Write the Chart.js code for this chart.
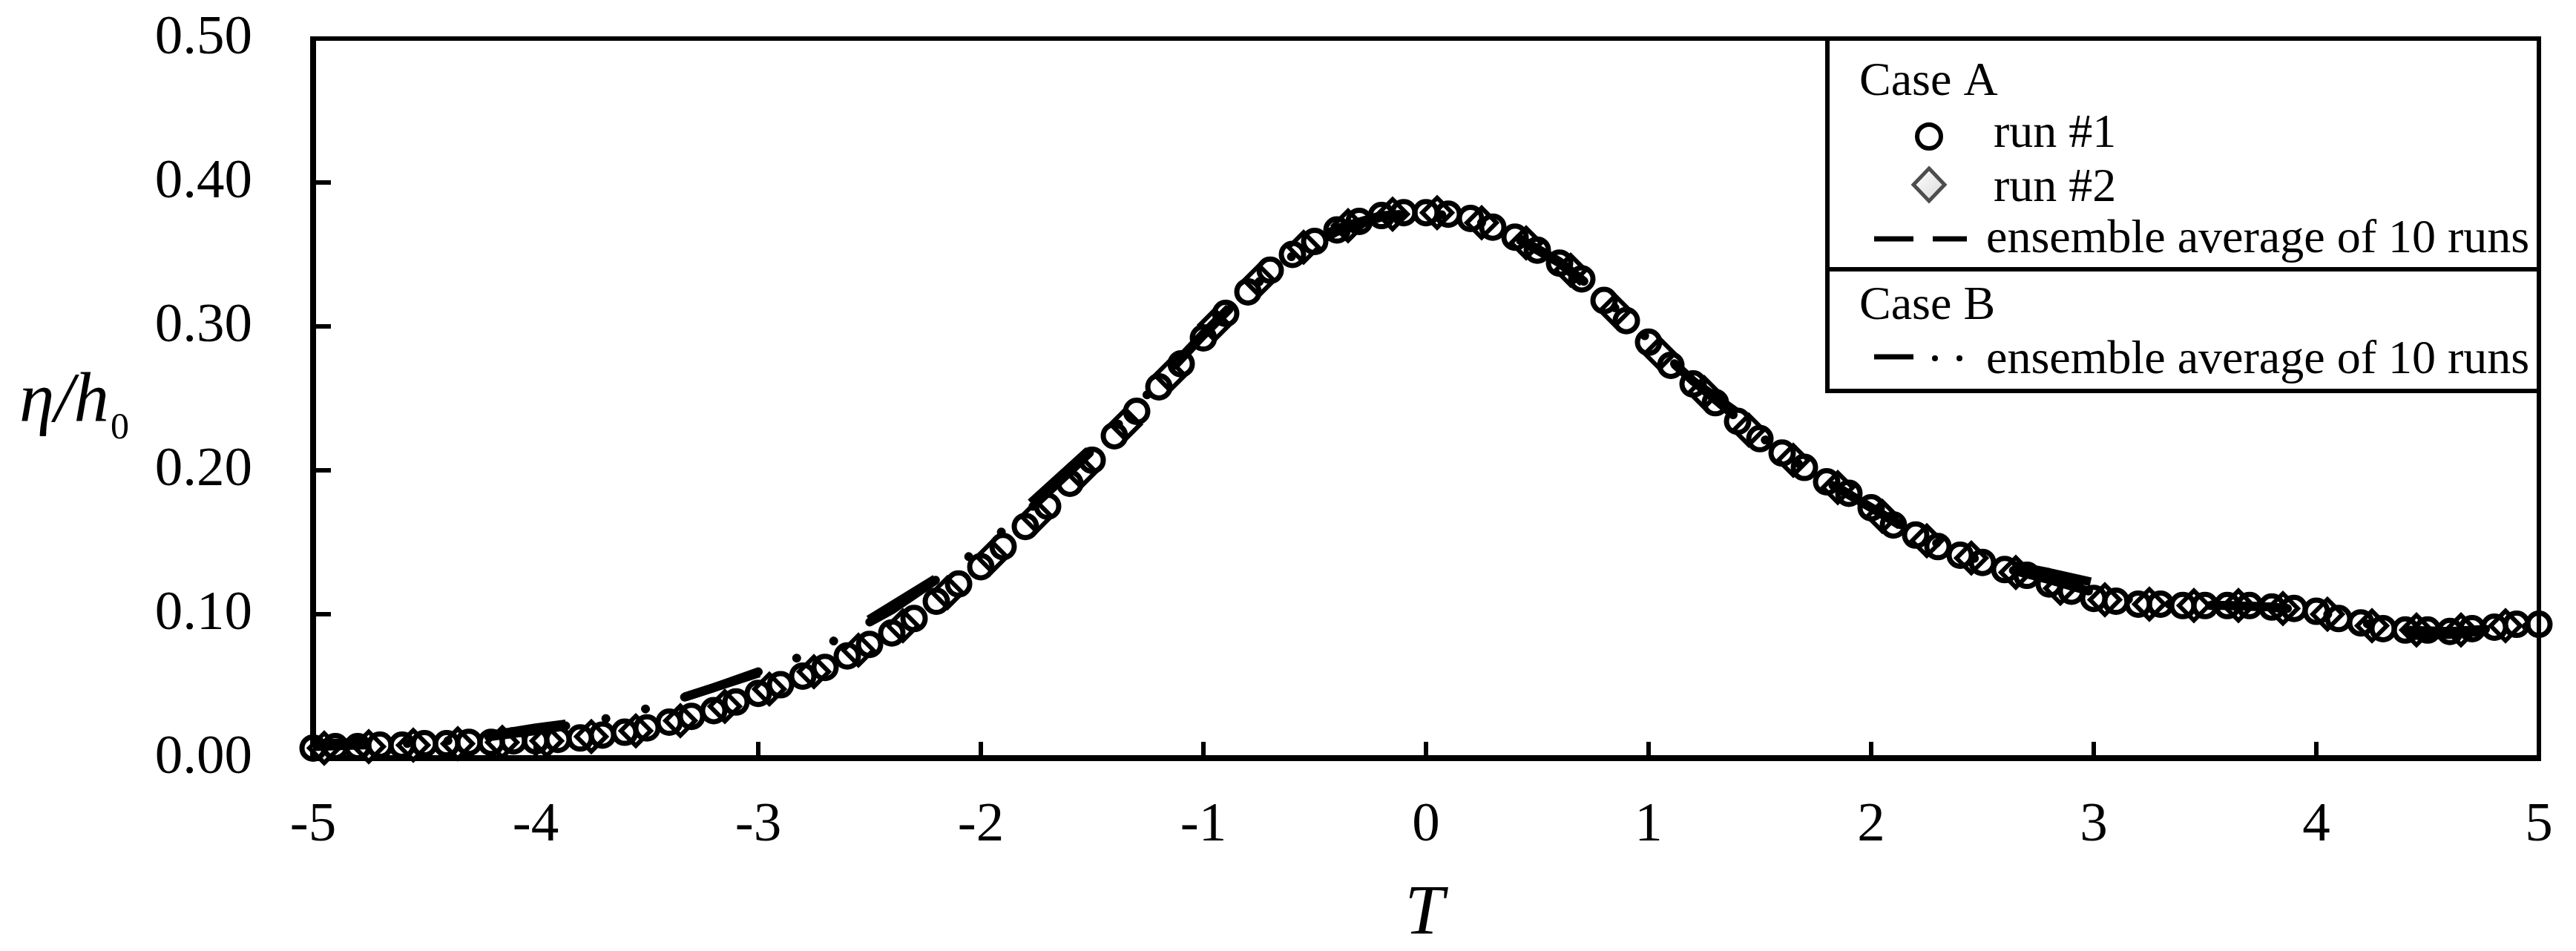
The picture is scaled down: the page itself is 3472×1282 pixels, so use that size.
<!DOCTYPE html>
<html>
<head>
<meta charset="utf-8">
<script src="https://cdn.jsdelivr.net/npm/chart.js@4.4.1/dist/chart.umd.min.js"></script>
<style>
  html, body { margin: 0; padding: 0; background: #fff; overflow: hidden; }
  #wrap { width: 3472px; height: 1282px; }
</style>
</head>
<body>
<div id="wrap"><canvas id="chart" width="3472" height="1282"></canvas></div>
<script>
const SERIF = '"Liberation Serif", "Times New Roman", serif';

// axis ticks
const xTickValues = [-5, -4, -3, -2, -1, 0, 1, 2, 3, 4, 5];
const yTickValues = [0, 0.1, 0.2, 0.3, 0.4, 0.5];

// Case A, run #1 (circles)
const tRun1 = [
  -5.0, -4.9, -4.8, -4.7, -4.6, -4.5, -4.4, -4.3, -4.2, -4.1,
  -4.0, -3.9, -3.8, -3.7, -3.6, -3.5, -3.4, -3.3, -3.2, -3.1,
  -3.0, -2.9, -2.8, -2.7, -2.6, -2.5, -2.4, -2.3, -2.2, -2.1,
  -2.0, -1.9, -1.8, -1.7, -1.6, -1.5, -1.4, -1.3, -1.2, -1.1,
  -1.0, -0.9, -0.8, -0.7, -0.6, -0.5, -0.4, -0.3, -0.2, -0.1,
  0.0, 0.1, 0.2, 0.3, 0.4, 0.5, 0.6, 0.7, 0.8, 0.9,
  1.0, 1.1, 1.2, 1.3, 1.4, 1.5, 1.6, 1.7, 1.8, 1.9,
  2.0, 2.1, 2.2, 2.3, 2.4, 2.5, 2.6, 2.7, 2.8, 2.9,
  3.0, 3.1, 3.2, 3.3, 3.4, 3.5, 3.6, 3.7, 3.8, 3.9,
  4.0, 4.1, 4.2, 4.3, 4.4, 4.5, 4.6, 4.7, 4.8, 4.9,
  5.0
];
const etaRun1 = [
  0.007, 0.008, 0.008, 0.009, 0.009, 0.010, 0.010, 0.011, 0.011, 0.012,
  0.012, 0.013, 0.014, 0.016, 0.018, 0.021, 0.025, 0.029, 0.033, 0.039,
  0.045, 0.051, 0.057, 0.063, 0.071, 0.079, 0.087, 0.097, 0.109, 0.121,
  0.133, 0.147, 0.161, 0.175, 0.191, 0.207, 0.224, 0.241, 0.258, 0.274,
  0.292, 0.309, 0.324, 0.339, 0.350, 0.359, 0.367, 0.373, 0.377, 0.379,
  0.379, 0.378, 0.375, 0.369, 0.362, 0.353, 0.344, 0.333, 0.318, 0.304,
  0.289, 0.273, 0.260, 0.247, 0.234, 0.222, 0.212, 0.202, 0.192, 0.184,
  0.174, 0.162, 0.155, 0.147, 0.141, 0.136, 0.131, 0.127, 0.121, 0.116,
  0.111, 0.109, 0.107, 0.107, 0.106, 0.106, 0.106, 0.106, 0.105, 0.104,
  0.102, 0.097, 0.094, 0.090, 0.089, 0.089, 0.088, 0.090, 0.091, 0.093,
  0.093
];

// Case A, run #2 (diamonds)
const tRun2 = [
  -4.95, -4.75, -4.55, -4.35, -4.15, -3.95, -3.75, -3.55, -3.35, -3.15,
  -2.95, -2.75, -2.55, -2.35, -2.15, -1.95, -1.75, -1.55, -1.35, -1.15,
  -0.95, -0.75, -0.55, -0.35, -0.15, 0.05, 0.25, 0.45, 0.65, 0.85,
  1.05, 1.25, 1.45, 1.65, 1.85, 2.05, 2.25, 2.45, 2.65, 2.85,
  3.05, 3.25, 3.45, 3.65, 3.85, 4.05, 4.25, 4.45, 4.65, 4.85
];
const etaRun2 = [
  0.007, 0.008, 0.009, 0.010, 0.011, 0.012, 0.015, 0.019, 0.026, 0.036,
  0.048, 0.060, 0.075, 0.092, 0.115, 0.140, 0.168, 0.199, 0.232, 0.266,
  0.301, 0.332, 0.355, 0.370, 0.378, 0.379, 0.372, 0.358, 0.339, 0.311,
  0.281, 0.254, 0.228, 0.207, 0.188, 0.168, 0.151, 0.139, 0.129, 0.118,
  0.110, 0.107, 0.106, 0.106, 0.104, 0.100, 0.092, 0.089, 0.089, 0.092
];

// ensemble averages of 10 runs
const tAvg = [
  -5.0, -4.8, -4.6, -4.4, -4.2, -4.0, -3.8, -3.6, -3.4, -3.2,
  -3.0, -2.8, -2.6, -2.4, -2.2, -2.0, -1.8, -1.6, -1.4, -1.2,
  -1.0, -0.8, -0.6, -0.4, -0.2, 0.0, 0.2, 0.4, 0.6, 0.8,
  1.0, 1.2, 1.4, 1.6, 1.8, 2.0, 2.2, 2.4, 2.6, 2.8,
  3.0, 3.2, 3.4, 3.6, 3.8, 4.0, 4.2, 4.4, 4.6, 4.8,
  5.0
];
const etaAvgA = [
  0.010, 0.011, 0.012, 0.014, 0.016, 0.021, 0.025, 0.030, 0.039, 0.049,
  0.059, 0.071, 0.087, 0.106, 0.125, 0.146, 0.174, 0.202, 0.230, 0.262,
  0.295, 0.326, 0.351, 0.368, 0.377, 0.379, 0.375, 0.362, 0.344, 0.318,
  0.290, 0.262, 0.240, 0.214, 0.193, 0.174, 0.155, 0.142, 0.135, 0.129,
  0.122, 0.112, 0.107, 0.106, 0.105, 0.100, 0.088, 0.085, 0.086, 0.089,
  0.092
];
const etaAvgB = [
  0.008, 0.009, 0.010, 0.012, 0.015, 0.019, 0.024, 0.030, 0.039, 0.049,
  0.060, 0.071, 0.086, 0.103, 0.124, 0.146, 0.170, 0.199, 0.229, 0.261,
  0.294, 0.325, 0.349, 0.366, 0.376, 0.379, 0.375, 0.363, 0.345, 0.320,
  0.291, 0.262, 0.236, 0.212, 0.192, 0.174, 0.156, 0.142, 0.132, 0.124,
  0.115, 0.109, 0.106, 0.106, 0.105, 0.102, 0.094, 0.089, 0.088, 0.090,
  0.092
];

function pts(xs, ys) {
  return xs.map((x, i) => ({ x: x, y: ys[i] }));
}

// frame, inward ticks, axis titles and the two-part legend box
const decor = {
  id: 'decor',
  beforeDatasetsDraw(chart) {
    const { ctx, chartArea: a, scales } = chart;
    ctx.save();
    ctx.strokeStyle = '#000';
    ctx.lineCap = 'butt';

    ctx.lineWidth = 6;
    ctx.beginPath();
    ctx.moveTo(a.left, a.top);
    ctx.lineTo(a.right, a.top);
    ctx.lineTo(a.right, a.bottom);
    ctx.stroke();

    ctx.lineWidth = 6;
    yTickValues.slice(1, -1).forEach(v => {
      const y = scales.y.getPixelForValue(v);
      ctx.beginPath();
      ctx.moveTo(a.left, y);
      ctx.lineTo(a.left + 24, y);
      ctx.stroke();
    });
    xTickValues.slice(1, -1).forEach(v => {
      const x = scales.x.getPixelForValue(v);
      ctx.beginPath();
      ctx.moveTo(x, a.bottom);
      ctx.lineTo(x, a.bottom - 22);
      ctx.stroke();
    });

    ctx.lineWidth = 8;
    ctx.beginPath();
    ctx.moveTo(a.left, a.top - 3);
    ctx.lineTo(a.left, a.bottom);
    ctx.lineTo(a.right + 3, a.bottom);
    ctx.stroke();
    ctx.restore();
  },
  afterDatasetsDraw(chart) {
    const { ctx, chartArea: a } = chart;
    ctx.save();
    ctx.fillStyle = '#000';
    ctx.textBaseline = 'alphabetic';

    // y title: eta / h0
    ctx.textAlign = 'left';
    ctx.font = 'italic 95px ' + SERIF;
    ctx.fillText('η/h', 26, 568);
    const w = ctx.measureText('η/h').width;
    ctx.font = '50px ' + SERIF;
    ctx.fillText('0', 26 + w + 2, 591);

    // x title
    ctx.textAlign = 'center';
    ctx.font = 'italic 95px ' + SERIF;
    ctx.fillText('T', (a.left + a.right) / 2 - 2, 1259);

    // legend box
    const L = 2463, R = a.right, T = a.top, M = 363, B = 527;
    ctx.fillStyle = '#fff';
    ctx.fillRect(L, T, R - L, B - T);
    ctx.strokeStyle = '#000';
    ctx.lineWidth = 6;
    ctx.strokeRect(L, T, R - L, B - T);
    ctx.beginPath();
    ctx.moveTo(L, M);
    ctx.lineTo(R, M);
    ctx.stroke();

    ctx.fillStyle = '#000';
    ctx.textAlign = 'left';
    ctx.font = '64px ' + SERIF;
    ctx.fillText('Case A', 2506, 128);
    ctx.fillText('run #1', 2687, 198);
    ctx.fillText('run #2', 2687, 271);
    ctx.fillText('ensemble average of 10 runs', 2677, 340);
    ctx.fillText('Case B', 2506, 430);
    ctx.fillText('ensemble average of 10 runs', 2677, 503);

    // circle sample
    ctx.lineWidth = 6;
    ctx.beginPath();
    ctx.arc(2600, 184, 16, 0, Math.PI * 2);
    ctx.stroke();

    // diamond sample
    const g = ctx.createLinearGradient(2580, 230, 2620, 270);
    g.addColorStop(0, '#ffffff');
    g.addColorStop(1, '#d9d9d9');
    ctx.fillStyle = g;
    ctx.strokeStyle = '#4d4d4d';
    ctx.lineWidth = 5;
    ctx.beginPath();
    ctx.moveTo(2600, 227);
    ctx.lineTo(2621, 249);
    ctx.lineTo(2600, 271);
    ctx.lineTo(2579, 249);
    ctx.closePath();
    ctx.fill();
    ctx.stroke();

    // dashed sample (case A)
    ctx.strokeStyle = '#000';
    ctx.lineWidth = 7;
    ctx.beginPath();
    ctx.moveTo(2526, 322); ctx.lineTo(2579, 322);
    ctx.moveTo(2605, 322); ctx.lineTo(2651, 322);
    ctx.stroke();

    // dash-dot-dot sample (case B)
    ctx.beginPath();
    ctx.moveTo(2526, 481); ctx.lineTo(2579, 481);
    ctx.stroke();
    ctx.fillStyle = '#000';
    [2608, 2641].forEach(x => {
      ctx.beginPath();
      ctx.arc(x, 483, 4, 0, Math.PI * 2);
      ctx.fill();
    });
    ctx.restore();
  }
};

new Chart(document.getElementById('chart'), {
  type: 'scatter',
  data: {
    datasets: [
      {
        label: 'Case B ensemble average of 10 runs',
        data: pts(tAvg, etaAvgB),
        showLine: true,
        pointRadius: 0,
        borderColor: '#000',
        borderWidth: 12,
        borderDash: [105, 55, 0.01, 55, 0.01, 55],
        borderDashOffset: 33,
        borderCapStyle: 'round',
        borderJoinStyle: 'round',
        order: 0
      },
      {
        label: 'Case A ensemble average of 10 runs',
        data: pts(tAvg, etaAvgA),
        showLine: true,
        pointRadius: 0,
        borderColor: '#000',
        borderWidth: 12,
        borderDash: [105, 165],
        borderDashOffset: 33,
        borderCapStyle: 'butt',
        borderJoinStyle: 'round',
        order: 1
      },
      {
        label: 'run #1',
        data: pts(tRun1, etaRun1),
        pointStyle: 'circle',
        pointRadius: 15,
        pointBorderWidth: 7,
        pointBorderColor: '#000',
        pointBackgroundColor: 'rgba(255,255,255,0)',
        clip: false,
        order: 2
      },
      {
        label: 'run #2',
        data: pts(tRun2, etaRun2),
        pointStyle: 'rectRot',
        pointRadius: 20,
        pointBorderWidth: 6,
        pointBorderColor: '#000',
        pointBackgroundColor: 'rgba(255,255,255,0.9)',
        clip: false,
        order: 3
      }
    ]
  },
  options: {
    responsive: false,
    devicePixelRatio: 1,
    animation: false,
    layout: { padding: { left: 0, right: 50, top: 52, bottom: 0 } },
    plugins: {
      legend: { display: false },
      tooltip: { enabled: false }
    },
    scales: {
      x: {
        type: 'linear',
        min: -5,
        max: 5,
        afterFit: s => { s.height = 260; },
        afterBuildTicks: s => { s.ticks = xTickValues.map(v => ({ value: v })); },
        ticks: {
          color: '#000',
          font: { family: SERIF, size: 75 },
          padding: 0,
          maxRotation: 0,
          autoSkip: false
        },
        grid: { display: false, drawTicks: true, tickLength: 46 },
        border: { display: false }
      },
      y: {
        min: 0,
        max: 0.5,
        afterFit: s => { s.width = 422; },
        afterBuildTicks: s => { s.ticks = yTickValues.map(v => ({ value: v })); },
        ticks: {
          color: '#000',
          font: { family: SERIF, size: 75 },
          padding: 0,
          callback: v => Number(v).toFixed(2)
        },
        grid: { display: false, drawTicks: true, tickLength: 82 },
        border: { display: false }
      }
    }
  },
  plugins: [decor]
});
</script>
</body>
</html>
